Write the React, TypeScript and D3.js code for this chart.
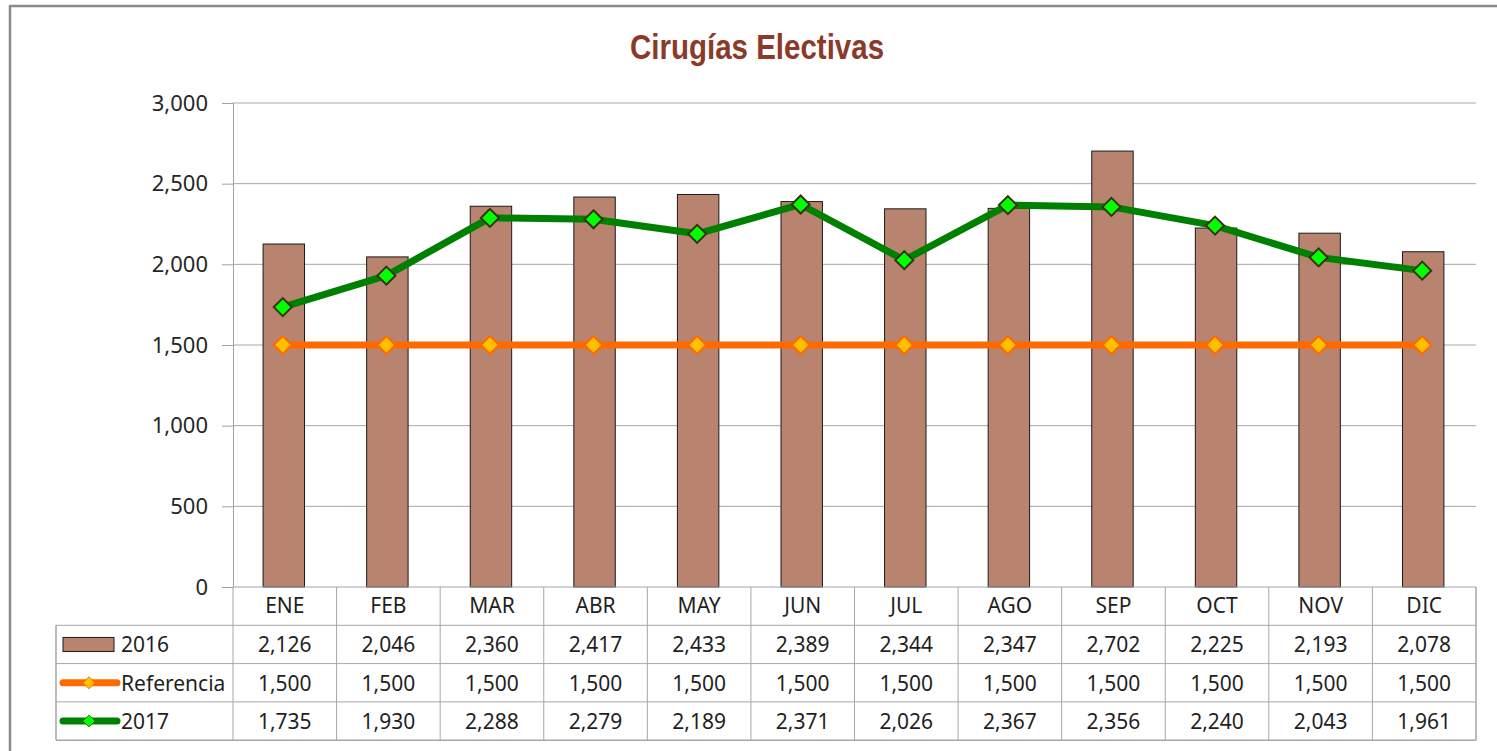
import React, { useEffect, useRef } from 'react';
import * as d3 from 'd3';

const months = ['ENE', 'FEB', 'MAR', 'ABR', 'MAY', 'JUN', 'JUL', 'AGO', 'SEP', 'OCT', 'NOV', 'DIC'];
const values2016 = [2126, 2046, 2360, 2417, 2433, 2389, 2344, 2347, 2702, 2225, 2193, 2078];
const referencia = [1500, 1500, 1500, 1500, 1500, 1500, 1500, 1500, 1500, 1500, 1500, 1500];
const values2017 = [1735, 1930, 2288, 2279, 2189, 2371, 2026, 2367, 2356, 2240, 2043, 1961];
const yTicks = [0, 500, 1000, 1500, 2000, 2500, 3000];

const WIDTH = 1497;
const HEIGHT = 751;

const BAR_COLOR = '#B8836F';
const ORANGE = '#FF6A00';
const ORANGE_MARK = '#FFC000';
const GREEN = '#008000';
const GREEN_MARK = '#00FF00';
const FONT = '"Noto Sans", "Open Sans", sans-serif';

const App: React.FC = () => {
  const svgRef = useRef<SVGSVGElement>(null);

  useEffect(() => {
    if (!svgRef.current) return;
    const svg = d3.select(svgRef.current);
    svg.selectAll('*').remove();

    const plot = { left: 233, right: 1476, top: 103, bottom: 587 };
    const rowH = 38.3;
    const legendLeft = 56;

    // outer frame
    svg.append('rect')
      .attr('x', 10).attr('y', 6)
      .attr('width', 1520).attr('height', 780)
      .attr('fill', '#fff')
      .attr('stroke', '#8a8a8a')
      .attr('stroke-width', 2.5);

    // title (narrow bold face, squeezed since no narrow font is installed)
    svg.append('text')
      .attr('transform', 'translate(757, 59) scale(0.82, 1)')
      .attr('text-anchor', 'middle')
      .style('font-family', '"Liberation Sans", Arial, sans-serif')
      .style('font-weight', 'bold')
      .style('font-size', '36px')
      .style('fill', '#8B3A2A')
      .text('Cirugías Electivas');

    const x = d3.scaleBand<string>()
      .domain(months)
      .range([plot.left, plot.right]);

    const y = d3.scaleLinear()
      .domain([0, 3000])
      .range([plot.bottom, plot.top]);

    // gridlines
    svg.append('g')
      .selectAll('line')
      .data(yTicks.filter(t => t > 0))
      .enter().append('line')
      .attr('x1', plot.left).attr('x2', plot.right)
      .attr('y1', d => y(d)).attr('y2', d => y(d))
      .attr('stroke', '#a6a6a6')
      .attr('stroke-width', 1);

    // y axis
    const yAxis = d3.axisLeft(y)
      .tickValues(yTicks)
      .tickSize(11)
      .tickPadding(14)
      .tickFormat(d => d3.format(',')(d as number));
    const yg = svg.append('g')
      .attr('transform', `translate(${plot.left}, 0)`)
      .call(yAxis);
    yg.select('.domain').attr('stroke', '#a0a0a0');
    yg.selectAll('.tick line').attr('stroke', '#a0a0a0');
    yg.selectAll('.tick text')
      .style('font-family', FONT)
      .style('font-size', '22px')
      .style('fill', '#262626');

    // bars
    const barW = x.bandwidth() * 0.4;
    svg.append('g')
      .selectAll('rect')
      .data(values2016)
      .enter().append('rect')
      .attr('x', (_d, i) => (x(months[i]) || 0) + x.bandwidth() / 2 - barW / 2 - 1)
      .attr('width', barW)
      .attr('y', d => y(d))
      .attr('height', d => plot.bottom - y(d))
      .attr('fill', BAR_COLOR)
      .attr('stroke', '#1a1a1a')
      .attr('stroke-width', 1);

    const cx = (i: number) => (x(months[i]) || 0) + x.bandwidth() / 2 - 2;
    const line = d3.line<number>()
      .x((_d, i) => cx(i))
      .y(d => y(d));
    const diamond = (s: number) => `M0,${-s}L${s},0L0,${s}L${-s},0Z`;

    // referencia line
    svg.append('path')
      .datum(referencia)
      .attr('d', line)
      .attr('fill', 'none')
      .attr('stroke', ORANGE)
      .attr('stroke-width', 7);
    svg.append('g')
      .selectAll('path')
      .data(referencia)
      .enter().append('path')
      .attr('transform', (d, i) => `translate(${cx(i)}, ${y(d)})`)
      .attr('d', diamond(9))
      .attr('fill', ORANGE_MARK)
      .attr('stroke', ORANGE)
      .attr('stroke-width', 2);

    // 2017 line
    svg.append('path')
      .datum(values2017)
      .attr('d', line)
      .attr('fill', 'none')
      .attr('stroke', GREEN)
      .attr('stroke-width', 7)
      .attr('stroke-linejoin', 'round');
    svg.append('g')
      .selectAll('path')
      .data(values2017)
      .enter().append('path')
      .attr('transform', (d, i) => `translate(${cx(i)}, ${y(d)})`)
      .attr('d', diamond(9))
      .attr('fill', GREEN_MARK)
      .attr('stroke', '#3a3010')
      .attr('stroke-width', 2);

    // data table
    const table = svg.append('g');
    const gridColor = '#a6a6a6';
    const rowsTop = plot.bottom + rowH;
    const tableBottom = plot.bottom + rowH * 4;

    // x axis line
    table.append('line')
      .attr('x1', plot.left).attr('x2', plot.right)
      .attr('y1', plot.bottom).attr('y2', plot.bottom)
      .attr('stroke', gridColor);

    [1, 2, 3, 4].forEach(r => {
      table.append('line')
        .attr('x1', legendLeft).attr('x2', plot.right)
        .attr('y1', plot.bottom + rowH * r).attr('y2', plot.bottom + rowH * r)
        .attr('stroke', gridColor).attr('stroke-width', r === 4 ? 1.5 : 1);
    });
    table.append('line')
      .attr('x1', legendLeft).attr('x2', legendLeft)
      .attr('y1', rowsTop).attr('y2', tableBottom)
      .attr('stroke', gridColor).attr('stroke-width', 1.5);
    [...months.map(m => x(m) || 0), plot.right].forEach(px => {
      table.append('line')
        .attr('x1', px).attr('x2', px)
        .attr('y1', plot.bottom).attr('y2', tableBottom)
        .attr('stroke', gridColor).attr('stroke-width', px === plot.right ? 1.5 : 1);
    });

    const textStyle = (sel: d3.Selection<SVGTextElement, any, any, any>) =>
      sel.style('font-family', FONT)
        .style('font-size', '21px')
        .style('fill', '#1f1f1f');

    // month header
    table.append('g').selectAll('text')
      .data(months)
      .enter().append('text')
      .attr('x', d => (x(d) || 0) + x.bandwidth() / 2)
      .attr('y', plot.bottom + rowH / 2 + 7)
      .attr('text-anchor', 'middle')
      .call(textStyle)
      .text(d => d);

    const fmt = d3.format(',');
    [values2016, referencia, values2017].forEach((series, r) => {
      table.append('g').selectAll('text')
        .data(series)
        .enter().append('text')
        .attr('x', (_d, i) => (x(months[i]) || 0) + x.bandwidth() / 2)
        .attr('y', rowsTop + rowH * r + rowH / 2 + 8)
        .attr('text-anchor', 'middle')
        .call(textStyle)
        .text(d => fmt(d));
    });

    // legend keys
    const keyY = (r: number) => rowsTop + rowH * r + rowH / 2;
    table.append('rect')
      .attr('x', 63).attr('y', keyY(0) - 7)
      .attr('width', 51).attr('height', 14)
      .attr('fill', BAR_COLOR)
      .attr('stroke', '#1a1a1a');
    const lineKeys = [
      { r: 1, stroke: ORANGE, fill: ORANGE_MARK, mStroke: ORANGE },
      { r: 2, stroke: GREEN, fill: GREEN_MARK, mStroke: '#3a7a10' },
    ];
    lineKeys.forEach(k => {
      table.append('line')
        .attr('x1', 63).attr('x2', 117)
        .attr('y1', keyY(k.r)).attr('y2', keyY(k.r))
        .attr('stroke', k.stroke)
        .attr('stroke-width', 7)
        .attr('stroke-linecap', 'round');
      table.append('path')
        .attr('transform', `translate(89, ${keyY(k.r)})`)
        .attr('d', diamond(6))
        .attr('fill', k.fill)
        .attr('stroke', k.mStroke)
        .attr('stroke-width', 1);
    });
    ['2016', 'Referencia', '2017'].forEach((label, r) => {
      table.append('text')
        .attr('x', 121)
        .attr('y', keyY(r) + 8)
        .call(textStyle)
        .text(label);
    });
  }, []);

  return (
    <svg
      ref={svgRef}
      width={WIDTH}
      height={HEIGHT}
      style={{ position: 'absolute', left: 0, top: 0, background: '#fff' }}
    />
  );
};

export default App;
